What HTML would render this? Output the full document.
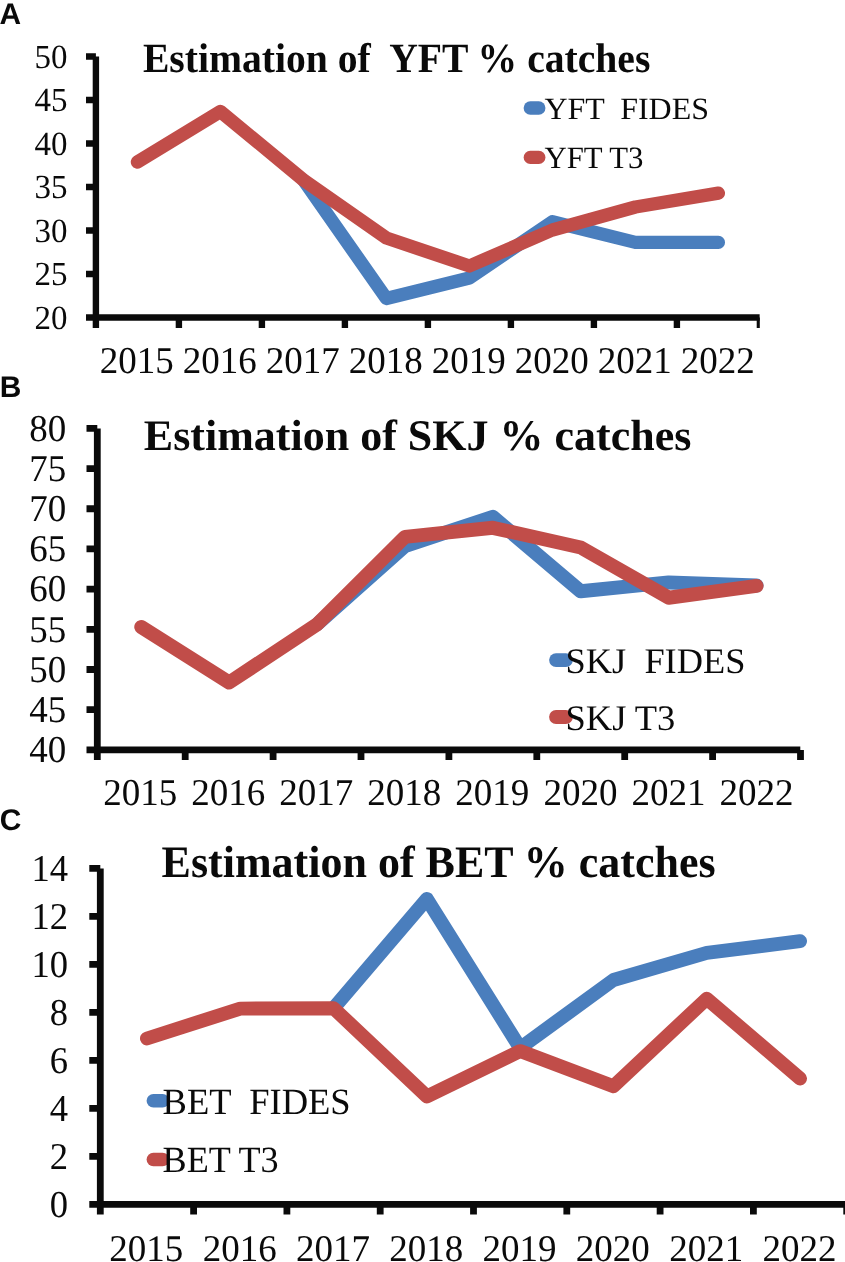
<!DOCTYPE html>
<html><head><meta charset="utf-8"><title>Estimation of catches</title>
<style>html,body{margin:0;padding:0;background:#fff}svg{display:block;will-change:transform;text-rendering:geometricPrecision}text{white-space:pre}</style></head><body>
<svg width="845" height="1262" viewBox="0 0 845 1262">
<rect width="845" height="1262" fill="#fff"/>
<g font-family="Liberation Sans, sans-serif" font-weight="bold" font-size="29.9" fill="#0a0a0a">
<text x="-0.6" y="23.8">A</text><text x="-0.2" y="397">B</text><text x="-0.2" y="830.4">C</text></g>
<clipPath id="clipA"><rect x="0" y="0" width="759.8" height="1262"/></clipPath>
<g stroke="#0a0a0a" stroke-width="6.4" fill="none" clip-path="url(#clipA)">
<path d="M95.9 56.5V328"/>
<path d="M86 317.5H759.8"/>
<path d="M86 56.50H95.9M86 100.00H95.9M86 143.50H95.9M86 187.00H95.9M86 230.50H95.9M86 274.00H95.9M178.90 317.5V328M261.90 317.5V328M344.90 317.5V328M427.90 317.5V328M510.90 317.5V328M593.90 317.5V328M676.90 317.5V328M759.90 317.5V328"/>
</g>
<g font-family="Liberation Serif, serif" font-size="33.8" fill="#0a0a0a" text-anchor="end">
<text x="67.6" y="67.80" textLength="33.00" lengthAdjust="spacingAndGlyphs">50</text>
<text x="67.6" y="111.30" textLength="33.00" lengthAdjust="spacingAndGlyphs">45</text>
<text x="67.6" y="154.80" textLength="33.00" lengthAdjust="spacingAndGlyphs">40</text>
<text x="67.6" y="198.30" textLength="33.00" lengthAdjust="spacingAndGlyphs">35</text>
<text x="67.6" y="241.80" textLength="33.00" lengthAdjust="spacingAndGlyphs">30</text>
<text x="67.6" y="285.30" textLength="33.00" lengthAdjust="spacingAndGlyphs">25</text>
<text x="67.6" y="328.80" textLength="33.00" lengthAdjust="spacingAndGlyphs">20</text>
</g>
<g font-family="Liberation Serif, serif" font-size="37.9" fill="#0a0a0a" text-anchor="middle">
<text x="136.80" y="373.3" textLength="74.00" lengthAdjust="spacingAndGlyphs">2015</text>
<text x="219.80" y="373.3" textLength="74.00" lengthAdjust="spacingAndGlyphs">2016</text>
<text x="302.80" y="373.3" textLength="74.00" lengthAdjust="spacingAndGlyphs">2017</text>
<text x="385.80" y="373.3" textLength="74.00" lengthAdjust="spacingAndGlyphs">2018</text>
<text x="468.80" y="373.3" textLength="74.00" lengthAdjust="spacingAndGlyphs">2019</text>
<text x="551.80" y="373.3" textLength="74.00" lengthAdjust="spacingAndGlyphs">2020</text>
<text x="634.80" y="373.3" textLength="74.00" lengthAdjust="spacingAndGlyphs">2021</text>
<text x="717.80" y="373.3" textLength="74.00" lengthAdjust="spacingAndGlyphs">2022</text>
</g>
<polyline points="303.40,180.00 386.40,298.50 469.40,278.00 552.40,221.70 635.40,242.40 718.40,242.40" fill="none" stroke="#4A7EBD" stroke-width="13.3" stroke-linecap="round" stroke-linejoin="round"/>
<polyline points="137.40,162.00 220.40,111.50 303.40,180.00 386.40,238.00 469.40,266.00 552.40,230.00 635.40,207.00 718.40,193.10" fill="none" stroke="#C14D49" stroke-width="13.3" stroke-linecap="round" stroke-linejoin="round"/>
<path d="M530.3 108H538.8" stroke="#4A7EBD" stroke-width="13.3" stroke-linecap="round"/>
<path d="M530.3 157.4H538.8" stroke="#C14D49" stroke-width="13.3" stroke-linecap="round"/>
<g font-family="Liberation Serif, serif" font-size="31" fill="#0a0a0a">
<text x="544.4" y="118.9" textLength="164.6" lengthAdjust="spacingAndGlyphs" xml:space="preserve">YFT  FIDES</text>
<text x="544.4" y="168" textLength="99" lengthAdjust="spacingAndGlyphs" xml:space="preserve">YFT T3</text>
</g>
<text x="142.9" y="71.8" font-family="Liberation Serif, serif" font-weight="bold" font-size="41.5" fill="#0a0a0a" textLength="507.5" lengthAdjust="spacingAndGlyphs" xml:space="preserve">Estimation of  YFT % catches</text>
<clipPath id="clipB"><rect x="0" y="0" width="845" height="1262"/></clipPath>
<g stroke="#0a0a0a" stroke-width="6.8" fill="none" clip-path="url(#clipB)">
<path d="M97.3 428.4V760"/>
<path d="M86.5 749.9H800.3"/>
<path d="M86.5 428.40H97.3M86.5 468.59H97.3M86.5 508.77H97.3M86.5 548.96H97.3M86.5 589.15H97.3M86.5 629.34H97.3M86.5 669.52H97.3M86.5 709.71H97.3M185.20 749.9V760M273.10 749.9V760M361.00 749.9V760M448.90 749.9V760M536.80 749.9V760M624.70 749.9V760M712.60 749.9V760M800.50 749.9V760"/>
</g>
<g font-family="Liberation Serif, serif" font-size="37.9" fill="#0a0a0a" text-anchor="end">
<text x="66.3" y="440.60" textLength="37.00" lengthAdjust="spacingAndGlyphs">80</text>
<text x="66.3" y="480.79" textLength="37.00" lengthAdjust="spacingAndGlyphs">75</text>
<text x="66.3" y="520.98" textLength="37.00" lengthAdjust="spacingAndGlyphs">70</text>
<text x="66.3" y="561.16" textLength="37.00" lengthAdjust="spacingAndGlyphs">65</text>
<text x="66.3" y="601.35" textLength="37.00" lengthAdjust="spacingAndGlyphs">60</text>
<text x="66.3" y="641.54" textLength="37.00" lengthAdjust="spacingAndGlyphs">55</text>
<text x="66.3" y="681.73" textLength="37.00" lengthAdjust="spacingAndGlyphs">50</text>
<text x="66.3" y="721.91" textLength="37.00" lengthAdjust="spacingAndGlyphs">45</text>
<text x="66.3" y="762.10" textLength="37.00" lengthAdjust="spacingAndGlyphs">40</text>
</g>
<g font-family="Liberation Serif, serif" font-size="37.9" fill="#0a0a0a" text-anchor="middle">
<text x="140.20" y="805.4" textLength="74.00" lengthAdjust="spacingAndGlyphs">2015</text>
<text x="228.24" y="805.4" textLength="74.00" lengthAdjust="spacingAndGlyphs">2016</text>
<text x="316.28" y="805.4" textLength="74.00" lengthAdjust="spacingAndGlyphs">2017</text>
<text x="404.32" y="805.4" textLength="74.00" lengthAdjust="spacingAndGlyphs">2018</text>
<text x="492.36" y="805.4" textLength="74.00" lengthAdjust="spacingAndGlyphs">2019</text>
<text x="580.40" y="805.4" textLength="74.00" lengthAdjust="spacingAndGlyphs">2020</text>
<text x="668.44" y="805.4" textLength="74.00" lengthAdjust="spacingAndGlyphs">2021</text>
<text x="756.48" y="805.4" textLength="74.00" lengthAdjust="spacingAndGlyphs">2022</text>
</g>
<polyline points="317.05,624.40 404.95,546.00 492.85,516.90 580.75,591.30 668.65,582.40 756.55,585.50" fill="none" stroke="#4A7EBD" stroke-width="14" stroke-linecap="round" stroke-linejoin="round"/>
<polyline points="141.25,627.00 229.15,682.50 317.05,624.40 404.95,536.90 492.85,527.80 580.75,547.50 668.65,597.70 756.55,585.90" fill="none" stroke="#C14D49" stroke-width="14" stroke-linecap="round" stroke-linejoin="round"/>
<path d="M556.0 660.1H565.9" stroke="#4A7EBD" stroke-width="13.8" stroke-linecap="round"/>
<path d="M556.0 717H565.9" stroke="#C14D49" stroke-width="13.8" stroke-linecap="round"/>
<g font-family="Liberation Serif, serif" font-size="36" fill="#0a0a0a">
<text x="565.6" y="673.2" textLength="179.8" lengthAdjust="spacingAndGlyphs" xml:space="preserve">SKJ  FIDES</text>
<text x="565.6" y="730" textLength="109.7" lengthAdjust="spacingAndGlyphs" xml:space="preserve">SKJ T3</text>
</g>
<text x="143.8" y="449.8" font-family="Liberation Serif, serif" font-weight="bold" font-size="43.7" fill="#0a0a0a" textLength="547.5" lengthAdjust="spacingAndGlyphs" xml:space="preserve">Estimation of SKJ % catches</text>
<clipPath id="clipC"><rect x="0" y="0" width="845" height="1262"/></clipPath>
<g stroke="#0a0a0a" stroke-width="6.8" fill="none" clip-path="url(#clipC)">
<path d="M100.3 868.4V1214.6"/>
<path d="M89.3 1204.4H846"/>
<path d="M89.3 868.40H100.3M89.3 916.40H100.3M89.3 964.40H100.3M89.3 1012.40H100.3M89.3 1060.40H100.3M89.3 1108.40H100.3M89.3 1156.40H100.3M193.60 1204.4V1214.6M286.90 1204.4V1214.6M380.20 1204.4V1214.6M473.50 1204.4V1214.6M566.80 1204.4V1214.6M660.10 1204.4V1214.6M753.40 1204.4V1214.6M846.70 1204.4V1214.6"/>
</g>
<g font-family="Liberation Serif, serif" font-size="37.9" fill="#0a0a0a" text-anchor="end">
<text x="68.0" y="880.90" textLength="36.60" lengthAdjust="spacingAndGlyphs">14</text>
<text x="68.0" y="928.90" textLength="36.60" lengthAdjust="spacingAndGlyphs">12</text>
<text x="68.0" y="976.90" textLength="36.60" lengthAdjust="spacingAndGlyphs">10</text>
<text x="68.0" y="1024.90" textLength="18.30" lengthAdjust="spacingAndGlyphs">8</text>
<text x="68.0" y="1072.90" textLength="18.30" lengthAdjust="spacingAndGlyphs">6</text>
<text x="68.0" y="1120.90" textLength="18.30" lengthAdjust="spacingAndGlyphs">4</text>
<text x="68.0" y="1168.90" textLength="18.30" lengthAdjust="spacingAndGlyphs">2</text>
<text x="68.0" y="1216.90" textLength="18.30" lengthAdjust="spacingAndGlyphs">0</text>
</g>
<g font-family="Liberation Serif, serif" font-size="37.7" fill="#0a0a0a" text-anchor="middle">
<text x="146.35" y="1261.1" textLength="74.00" lengthAdjust="spacingAndGlyphs">2015</text>
<text x="239.65" y="1261.1" textLength="74.00" lengthAdjust="spacingAndGlyphs">2016</text>
<text x="332.95" y="1261.1" textLength="74.00" lengthAdjust="spacingAndGlyphs">2017</text>
<text x="426.25" y="1261.1" textLength="74.00" lengthAdjust="spacingAndGlyphs">2018</text>
<text x="519.55" y="1261.1" textLength="74.00" lengthAdjust="spacingAndGlyphs">2019</text>
<text x="612.85" y="1261.1" textLength="74.00" lengthAdjust="spacingAndGlyphs">2020</text>
<text x="706.15" y="1261.1" textLength="74.00" lengthAdjust="spacingAndGlyphs">2021</text>
<text x="799.45" y="1261.1" textLength="74.00" lengthAdjust="spacingAndGlyphs">2022</text>
</g>
<polyline points="333.55,1008.20 426.85,898.90 520.15,1048.00 613.45,980.00 706.75,952.90 800.05,941.20" fill="none" stroke="#4A7EBD" stroke-width="13.9" stroke-linecap="round" stroke-linejoin="round"/>
<polyline points="146.95,1038.50 240.25,1008.60 333.55,1008.20 426.85,1096.40 520.15,1051.10 613.45,1086.20 706.75,998.70 800.05,1078.50" fill="none" stroke="#C14D49" stroke-width="13.9" stroke-linecap="round" stroke-linejoin="round"/>
<path d="M153.4 1100.8H162.6" stroke="#4A7EBD" stroke-width="13.6" stroke-linecap="round"/>
<path d="M153.4 1159.5H162.6" stroke="#C14D49" stroke-width="13.6" stroke-linecap="round"/>
<g font-family="Liberation Serif, serif" font-size="37" fill="#0a0a0a">
<text x="162.6" y="1114" textLength="188.1" lengthAdjust="spacingAndGlyphs" xml:space="preserve">BET  FIDES</text>
<text x="162.6" y="1172.3" textLength="116.1" lengthAdjust="spacingAndGlyphs" xml:space="preserve">BET T3</text>
</g>
<text x="161.6" y="876.7" font-family="Liberation Serif, serif" font-weight="bold" font-size="45" fill="#0a0a0a" textLength="554" lengthAdjust="spacingAndGlyphs" xml:space="preserve">Estimation of BET % catches</text>
</svg></body></html>
